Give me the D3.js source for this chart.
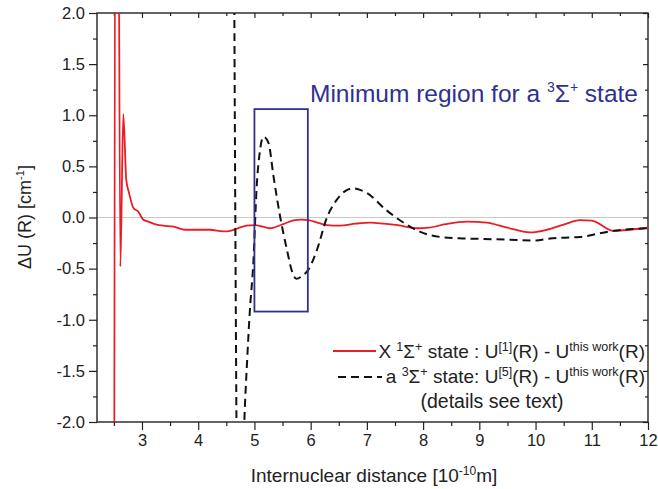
<!DOCTYPE html>
<html><head><meta charset="utf-8">
<script src="https://cdn.jsdelivr.net/npm/d3@7"></script>
<style>
html,body{margin:0;padding:0;background:#fff;}
svg text{font-family:"Liberation Sans",Arial,sans-serif;}
</style></head>
<body>
<svg id="chart" width="658" height="489"></svg>
<script>
// ---- data ----
const xTicks = [3,4,5,6,7,8,9,10,11,12];
const yTicks = [-2.0,-1.5,-1.0,-0.5,0.0,0.5,1.0,1.5,2.0];
const xDomain = [2.2, 12];
const yDomain = [-2, 2];

// X 1Σ+ state difference (red)
const redX = [2.50,2.535,2.565,2.615,2.668,2.72,2.77,2.85,2.93,3.02,3.11,3.26,3.38,3.56,3.77,4.03,4.21,4.45,4.57,4.68,4.86,5.01,5.15,5.28,5.51,5.72,5.84,5.96,6.15,6.29,6.52,6.8,7.06,7.3,7.55,7.9,8.1,8.4,8.78,9.13,9.5,9.9,10.2,10.5,10.79,11.0,11.39,11.74,12.0];
const redY = [-6,6,6,-0.48,1.01,0.37,0.24,0.09,0.06,-0.02,-0.04,-0.07,-0.08,-0.09,-0.12,-0.12,-0.12,-0.135,-0.13,-0.11,-0.08,-0.075,-0.09,-0.105,-0.065,-0.025,-0.02,-0.025,-0.055,-0.075,-0.08,-0.06,-0.05,-0.06,-0.075,-0.105,-0.1,-0.065,-0.04,-0.05,-0.1,-0.145,-0.12,-0.07,-0.025,-0.03,-0.13,-0.115,-0.1];

// a 3Σ+ state difference (black dashed)
const blackX = [4.615,4.66,4.70,4.76,4.82,4.87,4.92,4.98,5.04,5.10,5.16,5.25,5.34,5.46,5.58,5.67,5.75,5.85,5.96,6.11,6.29,6.46,6.62,6.76,6.88,7.0,7.35,7.71,7.95,8.3,8.7,9.07,9.67,10.0,10.26,10.79,11.39,12.0];
const blackY = [6,0,-3,-3.2,-2.0,-1.4,-0.9,-0.45,0.3,0.66,0.79,0.73,0.4,0.0,-0.32,-0.53,-0.6,-0.57,-0.51,-0.32,0.0,0.17,0.26,0.285,0.27,0.24,0.07,-0.07,-0.14,-0.19,-0.205,-0.21,-0.22,-0.225,-0.205,-0.19,-0.13,-0.105];

// minimum region box
const boxX = [5.0, 5.95];
const boxY = [-0.92, 1.06];

// ---- layout ----
const svg = d3.select("#chart");
const L = 97, R = 648, T = 13, B = 422;
const x = d3.scaleLinear().domain(xDomain).range([L, R]);
const y = d3.scaleLinear().domain(yDomain).range([B, T]);
const axisColor = "#222";
const redC = "#ec1c24", blueC = "#2e3192";

svg.append("defs").append("clipPath").attr("id","clip")
  .append("rect").attr("x",L).attr("y",T).attr("width",R-L).attr("height",B-T);

// zero line
svg.append("line").attr("x1",L).attr("x2",R).attr("y1",y(0)).attr("y2",y(0))
  .attr("stroke","#c8c8c8").attr("stroke-width",1);

const xMinor = d3.range(2.5, 12, 1);
const yMinor = d3.range(-1.75, 2, 0.5);
const fmt = d => d.toFixed(1);

// bottom axis
svg.append("g").attr("transform",`translate(0,${B})`)
  .call(d3.axisBottom(x).tickValues(xTicks).tickSize(8).tickPadding(4).tickFormat(d3.format("d")));
svg.append("g").attr("transform",`translate(0,${B})`)
  .call(d3.axisBottom(x).tickValues(xMinor).tickSize(4).tickFormat(""));
// top axis (inward)
svg.append("g").attr("transform",`translate(0,${T})`)
  .call(d3.axisBottom(x).tickValues(xTicks).tickSize(5).tickFormat(""));
svg.append("g").attr("transform",`translate(0,${T})`)
  .call(d3.axisBottom(x).tickValues(xMinor).tickSize(3).tickFormat(""));
// left axis
svg.append("g").attr("transform",`translate(${L},0)`)
  .call(d3.axisLeft(y).tickValues(yTicks).tickSize(8).tickPadding(4).tickFormat(fmt));
svg.append("g").attr("transform",`translate(${L},0)`)
  .call(d3.axisLeft(y).tickValues(yMinor).tickSize(4).tickFormat(""));
// right axis (inward)
svg.append("g").attr("transform",`translate(${R},0)`)
  .call(d3.axisLeft(y).tickValues(yTicks).tickSize(5).tickFormat(""));
svg.append("g").attr("transform",`translate(${R},0)`)
  .call(d3.axisLeft(y).tickValues(yMinor).tickSize(3).tickFormat(""));

svg.selectAll(".domain").remove();
svg.selectAll(".tick line").attr("stroke",axisColor).attr("stroke-width",1.2);
svg.selectAll(".tick text").attr("font-size",16.5).attr("fill","#222")
  .attr("font-family",'"Liberation Sans",Arial,sans-serif');

// frame
svg.append("rect").attr("x",L).attr("y",T).attr("width",R-L).attr("height",B-T)
  .attr("fill","none").attr("stroke",axisColor).attr("stroke-width",1.4);

// curves
const line = d3.line().x(d=>x(d[0])).y(d=>y(d[1])).curve(d3.curveMonotoneX);
const plot = svg.append("g").attr("clip-path","url(#clip)");
plot.append("path").datum(redX.map((v,i)=>[v,redY[i]])).attr("d",line)
  .attr("fill","none").attr("stroke",redC).attr("stroke-width",1.8);
plot.append("path").datum(blackX.map((v,i)=>[v,blackY[i]])).attr("d",line)
  .attr("fill","none").attr("stroke","#111").attr("stroke-width",2)
  .attr("stroke-dasharray","8,5");

// box
svg.append("rect").attr("x",x(boxX[0])).attr("y",y(boxY[1]))
  .attr("width",x(boxX[1])-x(boxX[0])).attr("height",y(boxY[0])-y(boxY[1]))
  .attr("fill","none").attr("stroke",blueC).attr("stroke-width",1.8);

// rich text helper: segments [text, sup?]
function rich(t, segs, size, supSize, rise){
  let up = false;
  segs.forEach(([s,sup])=>{
    const ts = t.append("tspan").text(s);
    if(sup){ ts.attr("font-size",supSize); if(!up){ts.attr("dy",-rise); up=true;} }
    else { ts.attr("font-size",size); if(up){ts.attr("dy",rise); up=false;} }
  });
  return t;
}

// blue label
rich(svg.append("text").attr("x",310).attr("y",102).attr("fill",blueC),
  [["Minimum region for a ",0],["3",1],["Σ",0],["+",1],[" state",0]], 24.5, 14, 10);

// legend
const lg = svg.append("g");
lg.append("line").attr("x1",333).attr("x2",376).attr("y1",351).attr("y2",351)
  .attr("stroke",redC).attr("stroke-width",2);
lg.append("line").attr("x1",338).attr("x2",382).attr("y1",377).attr("y2",377)
  .attr("stroke","#111").attr("stroke-width",2).attr("stroke-dasharray","8,5");
rich(lg.append("text").attr("x",645).attr("y",358).attr("text-anchor","end").attr("fill","#222"),
  [["X ",0],["1",1],["Σ",0],["+",1],[" state : U",0],["[1]",1],["(R) - U",0],["this work",1],["(R)",0]], 19, 12.5, 7);
rich(lg.append("text").attr("x",645).attr("y",383).attr("text-anchor","end").attr("fill","#222"),
  [["a ",0],["3",1],["Σ",0],["+",1],[" state: U",0],["[5]",1],["(R) - U",0],["this work",1],["(R)",0]], 19, 12.5, 7);
lg.append("text").attr("x",492).attr("y",408).attr("text-anchor","middle").attr("fill","#222")
  .attr("font-size",19.5).text("(details see text)");

// axis titles
rich(svg.append("text").attr("x",374).attr("y",482).attr("text-anchor","middle").attr("fill","#222"),
  [["Internuclear distance [10",0],["-10",1],["m]",0]], 19, 12, 7);
rich(svg.append("text").attr("transform","translate(31,217) rotate(-90)").attr("text-anchor","middle").attr("fill","#222"),
  [["ΔU (R) [cm",0],["-1",1],["]",0]], 18, 11, 7);
</script>
</body></html>
